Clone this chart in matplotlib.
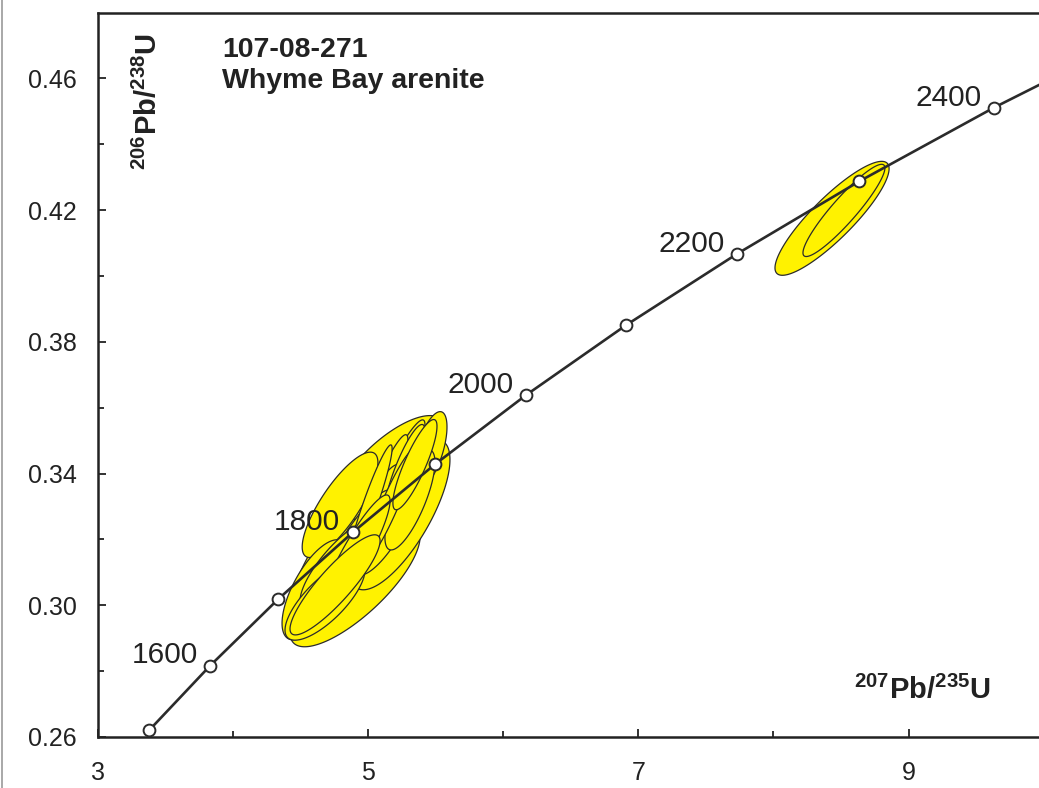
import matplotlib
matplotlib.use("Agg")
import matplotlib.pyplot as plt
import numpy as np
from matplotlib.patches import Polygon
from matplotlib.lines import Line2D

plt.rcParams['font.family'] = ['Liberation Sans', 'DejaVu Sans']
plt.rcParams['mathtext.fontset'] = 'custom'
plt.rcParams['mathtext.rm'] = 'Liberation Sans'
plt.rcParams['mathtext.bf'] = 'Liberation Sans:bold'

# concordia age marks (Ma) and their ratios
ages = [1500, 1600, 1700, 1800, 1900, 2000, 2100, 2200, 2300, 2400, 2500]
conc_x = [3.381, 3.834, 4.335, 4.887, 5.496, 6.169, 6.911, 7.730, 8.633, 9.630, 10.730]
conc_y = [0.2620, 0.2817, 0.3018, 0.3221, 0.3428, 0.3638, 0.3851, 0.4067, 0.4287, 0.4511, 0.4738]
label_ages = [1600, 1800, 2000, 2200, 2400]

# error ellipses: centre, half-extents, correlation
ell_x = [4.979, 4.905, 5.237, 5.163, 4.794, 4.609,
         5.200, 5.089, 5.016, 5.274, 4.942, 5.126, 4.794, 4.683, 5.459, 5.311,
         5.016, 5.163, 4.905, 4.757, 5.348,
         8.433, 8.521]
ell_y = [0.3229, 0.3062, 0.3275, 0.3418, 0.3305, 0.3047,
         0.3381, 0.3320, 0.3260, 0.3412, 0.3199, 0.3229, 0.3123, 0.3016, 0.3472, 0.3320,
         0.3305, 0.3305, 0.3153, 0.3062, 0.3427,
         0.4175, 0.4199]
ell_sx = [0.592, 0.481, 0.370, 0.407, 0.280, 0.244,
          0.222, 0.207, 0.222, 0.148, 0.259, 0.222, 0.296, 0.296, 0.126, 0.185,
          0.163, 0.185, 0.259, 0.333, 0.163,
          0.422, 0.303]
ell_sy = [0.0334, 0.0188, 0.0228, 0.0158, 0.0160, 0.0152,
          0.0182, 0.0198, 0.0167, 0.0137, 0.0152, 0.0137, 0.0137, 0.0122, 0.0116, 0.0152,
          0.0182, 0.0167, 0.0182, 0.0152, 0.0137,
          0.0173, 0.0140]
ell_rho = [0.853, 0.776, 0.733, 0.725, 0.80, 0.669,
           0.92, 0.92, 0.90, 0.85, 0.85, 0.80, 0.80, 0.75, 0.60, 0.75,
           0.94, 0.93, 0.90, 0.88, 0.85,
           0.87, 0.92]

xticks = [3, 5, 7, 9]
xminor = [4, 6, 8]
yticks = [0.26, 0.30, 0.34, 0.38, 0.42, 0.46]
yminor = [0.28, 0.32, 0.36, 0.40, 0.44]

ink = '#222222'
fig = plt.figure(figsize=(10.39, 7.88), dpi=100)
ax = fig.add_axes([97.5 / 1039, 51 / 788, 946.4 / 1039, 724.5 / 788])

t = np.linspace(0, 2 * np.pi, 150)
for cx, cy, sx, sy, r in zip(ell_x, ell_y, ell_sx, ell_sy, ell_rho):
    px = cx + sx * np.cos(t)
    py = cy + sy * (r * np.cos(t) + np.sqrt(1 - r * r) * np.sin(t))
    ax.add_patch(Polygon(np.column_stack([px, py]), closed=True,
                         facecolor='#FFF200', edgecolor='#2b2b2b', lw=0.9, zorder=2))

ax.plot(conc_x, conc_y, color='#2b2b2b', lw=1.9, zorder=3)
ax.plot(conc_x, conc_y, 'o', ms=8.5, mfc='white', mec='#2b2b2b', mew=1.4, zorder=4)

for a in label_ages:
    i = ages.index(a)
    ax.annotate(str(a), (conc_x[i], conc_y[i]), xytext=(-9, 1.5), textcoords='offset points',
                ha='right', va='baseline', fontsize=21.5, color=ink, zorder=5)

ax.set_xlim(3, 10)
ax.set_ylim(0.26, 0.48)
ax.set_xticks(xticks)
ax.set_xticklabels([str(v) for v in xticks])
ax.set_xticks(xminor, minor=True)
ax.set_yticks(yticks)
ax.set_yticklabels([f'{v:.2f}' for v in yticks])
ax.set_yticks(yminor, minor=True)
ax.tick_params(which='both', direction='in', width=1.3, color=ink, labelsize=18, labelcolor=ink)
ax.tick_params(which='major', length=5.5)
ax.tick_params(which='minor', length=4.5)
ax.tick_params(axis='x', which='both', pad=17)
ax.tick_params(axis='y', which='both', pad=15)
for s in ['top', 'left', 'bottom']:
    ax.spines[s].set_linewidth(1.8)
    ax.spines[s].set_color(ink)
ax.spines['right'].set_visible(False)

fig.text(222 / 1039, 1 - 57 / 788, '107-08-271', fontsize=20.5, fontweight='bold', color=ink, va='baseline')
fig.text(222 / 1039, 1 - 88 / 788, 'Whyme Bay arenite', fontsize=20.5, fontweight='bold', color=ink, va='baseline')
fig.text(148 / 1039, 1 - 102 / 788, r'$\mathbf{^{206}Pb/^{238}U}$', rotation=90, fontsize=21,
         color=ink, ha='center', va='center')
fig.text(922 / 1039, 1 - 690 / 788, r'$\mathbf{^{207}Pb/^{235}U}$', fontsize=21,
         color=ink, ha='center', va='center')

fig.add_artist(Line2D([0.0015, 0.0015], [0, 1], transform=fig.transFigure, color='#999999', lw=1.2))

fig.savefig('out.png', dpi=100)
